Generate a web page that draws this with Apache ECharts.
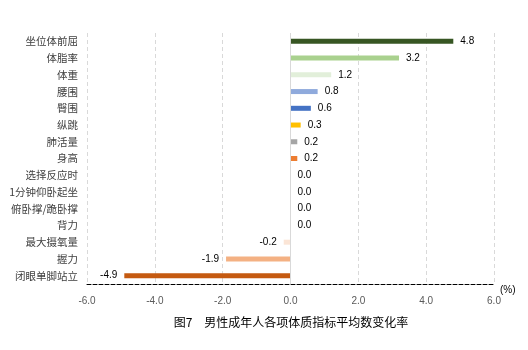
<!DOCTYPE html>
<html>
<head>
<meta charset="utf-8">
<script src="https://cdn.jsdelivr.net/npm/echarts@6/dist/echarts.min.js"></script>
<style>
  html, body { margin: 0; padding: 0; background: #fff; }
  #chart { width: 528px; height: 350px; }
</style>
</head>
<body>
<div id="chart"></div>
<script>
// Indicators, listed top to bottom
const categories = [
  '坐位体前屈', '体脂率', '体重', '腰围', '臀围', '纵跳', '肺活量', '身高',
  '选择反应时', '1分钟仰卧起坐', '俯卧撑/跪卧撑', '背力', '最大摄氧量', '握力', '闭眼单脚站立'
];
// Average change rate (%) for each indicator
const values = [4.8, 3.2, 1.2, 0.8, 0.6, 0.3, 0.2, 0.2, 0.0, 0.0, 0.0, 0.0, -0.2, -1.9, -4.9];
const barColors = [
  '#375623', '#A9D18E', '#E2EFDA', '#8FAADC', '#4472C4', '#FFC000', '#A5A5A5', '#ED7D31',
  '#ED7D31', '#ED7D31', '#ED7D31', '#ED7D31', '#FBE5D6', '#F4B183', '#C55A11'
];
const xTicks = { min: -6, max: 6, step: 2 };
const chartTitle = '图7　男性成年人各项体质指标平均数变化率';
const unitLabel = '(%)';

const chart = echarts.init(document.getElementById('chart'), null, { renderer: 'canvas' });

const cjkFont = '"Noto Sans CJK SC", sans-serif';
const numFont = '"Liberation Sans", Arial, sans-serif';

chart.setOption({
  animation: false,
  grid: { left: 87, right: 34, top: 33, bottom: 66, containLabel: false },
  xAxis: {
    type: 'value',
    min: xTicks.min, max: xTicks.max, interval: xTicks.step,
    axisLine: { show: true, onZero: false, lineStyle: { color: '#000', width: 1, type: [4, 2] } },
    axisTick: { show: false },
    splitLine: { show: true, lineStyle: { color: '#D9D9D9', type: [4, 3], width: 1 } },
    axisLabel: {
      color: '#595959', fontSize: 10, fontFamily: numFont, margin: 12,
      formatter: v => v.toFixed(1)
    }
  },
  yAxis: {
    type: 'category',
    data: categories,
    inverse: true,
    axisLine: { show: false },
    axisTick: { show: false },
    splitLine: { show: false },
    axisLabel: { color: '#404040', fontSize: 10.5, fontFamily: cjkFont, margin: 9 }
  },
  series: [{
    type: 'bar',
    data: values.map((v, i) => ({
      value: v,
      itemStyle: { color: barColors[i] },
      // negative bars carry their label on the left side
      label: v < 0 ? { position: 'left' } : undefined
    })),
    barWidth: 5,
    label: {
      show: true,
      position: 'right',
      distance: 7,
      color: '#000', fontSize: 10, fontFamily: numFont,
      formatter: p => p.value.toFixed(1)
    },
    markLine: {
      silent: true,
      symbol: 'none',
      label: { show: false },
      lineStyle: { color: '#D9D9D9', type: 'solid', width: 1 },
      data: [{ xAxis: 0 }]
    }
  }],
  graphic: [
    {
      type: 'text', x: 500, y: 285,
      style: { text: unitLabel, fill: '#000', font: '10px ' + numFont }
    },
    {
      type: 'text', x: 291, y: 316,
      style: { text: chartTitle, fill: '#000', font: '12px ' + cjkFont, textAlign: 'center' }
    }
  ]
});
</script>
</body>
</html>
